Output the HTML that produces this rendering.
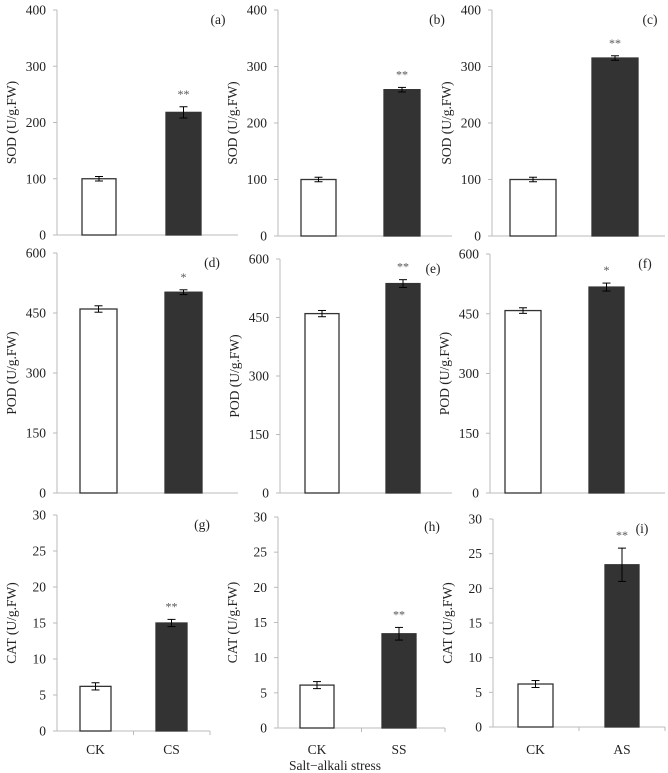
<!DOCTYPE html>
<html><head><meta charset="utf-8"><style>
body{margin:0;background:#fff}
svg{display:block;font-family:"Liberation Serif",serif}
</style></head><body>
<svg id="c" width="668" height="773" viewBox="0 0 668 773"></svg>
<script>
const panelIds=["a","b","c","d","e","f","g","h","i"];
const ckValues=[100,100,100,460,460,458,6.2,6.1,6.2];
const ckErrors=[4,4,4,8,8,7,0.5,0.5,0.5];
const trtValues=[218,259,315,502,537,517,15.0,13.4,23.4];
const trtErrors=[10,4,4,6,10,10,0.5,0.9,2.4];
const sigMarks=["**","**","**","*","**","*","**","**","**"];
const trtLabels=["CS","SS","AS"];
const yTitles=["SOD (U/g.FW)","POD (U/g.FW)","CAT (U/g.FW)"];
const yTicks=[[0,100,200,300,400],[0,150,300,450,600],[0,5,10,15,20,25,30]];
// layout (pixels)
const L=[
 {x0:57,x1:238,yt:10,yb:235,b1:[82,116],b2:[166,201],lx:218},
 {x0:278,x1:452,yt:10,yb:236,b1:[301,336],b2:[384,420],lx:437},
 {x0:492,x1:665,yt:10,yb:236,b1:[510,556],b2:[592,638],lx:650},
 {x0:57,x1:238,yt:253,yb:493,b1:[80,117],b2:[165,202],lx:212},
 {x0:280,x1:452,yt:259,yb:493,b1:[305,339],b2:[386,420],lx:433},
 {x0:490,x1:665,yt:254,yb:493,b1:[505,541],b2:[589,624],lx:645},
 {x0:57,x1:210,yt:515,yb:731,b1:[80,111],b2:[156,187],lx:202},
 {x0:278,x1:445,yt:517,yb:728,b1:[300,334],b2:[382,416],lx:432},
 {x0:493,x1:665,yt:519,yb:727,b1:[518,553],b2:[605,639],lx:642}
];
const S="http://www.w3.org/2000/svg",svg=document.getElementById("c");
function el(t,a,p){const e=document.createElementNS(S,t);for(const k in a)e.setAttribute(k,a[k]);(p||svg).appendChild(e);return e;}
panelIds.forEach((id,i)=>{
 const r=Math.floor(i/3),c=i%3,l=L[i],ticks=yTicks[r],ymax=ticks[ticks.length-1];
 const y=v=>l.yb-(v/ymax)*(l.yb-l.yt);
 const g=el("g",{});
 
 
 el("line",{x1:l.x0,y1:l.yt,x2:l.x0,y2:l.yb,stroke:"#bbb"},g);
 el("line",{x1:l.x0,y1:l.yb,x2:l.x1,y2:l.yb,stroke:"#bbb"},g);
 ticks.forEach(t=>{
  el("line",{x1:l.x0-4,y1:y(t),x2:l.x0,y2:y(t),stroke:"#bbb"},g);
  const tx=el("text",{x:l.x0-11,y:y(t)+4.5,"text-anchor":"end","font-size":"13.5",fill:"#222"},g);
  tx.textContent=t;
  
  
 });
 if(r==2){const mx=(l.x0+l.x1)/2;el("line",{x1:mx,y1:l.yb,x2:mx,y2:l.yb+4,stroke:"#bbb"},g);el("line",{x1:l.x1,y1:l.yb,x2:l.x1,y2:l.yb+4,stroke:"#bbb"},g);}
 const yt=el("text",{transform:`translate(${l.x0-41},${(l.yt+l.yb)/2}) rotate(-90)`,"text-anchor":"middle","font-size":"13.5",fill:"#222"},g);
 yt.textContent=yTitles[r];
 
 
 const pl=el("text",{x:l.lx,y:l.yt+14,"text-anchor":"middle","font-size":"13.5",fill:"#222"},g);
 pl.textContent="("+id+")";
 
 
 [[l.b1,ckValues[i],ckErrors[i],"#fff","ck"],[l.b2,trtValues[i],trtErrors[i],"#333","treatment"]].forEach(([b,v,e,f,n])=>{
  const rc=el("rect",{x:b[0],y:y(v),width:b[1]-b[0],height:l.yb-y(v),fill:f,stroke:"#333","stroke-width":"1.3"},g);
  
  
  const cx=(b[0]+b[1])/2;
  el("line",{x1:cx,y1:y(v+e),x2:cx,y2:y(v-e),stroke:"#000"},g);
  el("line",{x1:cx-4,y1:y(v+e),x2:cx+4,y2:y(v+e),stroke:"#000"},g);
  el("line",{x1:cx-4,y1:y(v-e),x2:cx+4,y2:y(v-e),stroke:"#000"},g);
  if(n=="treatment"){const s=el("text",{x:cx,y:y(v+e)-9,"text-anchor":"middle","font-size":"12",fill:"#555"},g);s.textContent=sigMarks[i];
   
   }
  if(r==2){const xl=el("text",{x:cx,y:754,"text-anchor":"middle","font-size":"13.5",fill:"#222"},g);xl.textContent=n=="ck"?"CK":trtLabels[c];
   
   }
 });
});
const xt=el("text",{x:335,y:770,"text-anchor":"middle","font-size":"13.5",fill:"#222"});
xt.textContent="Salt−alkali stress";


</script>
</body></html>
